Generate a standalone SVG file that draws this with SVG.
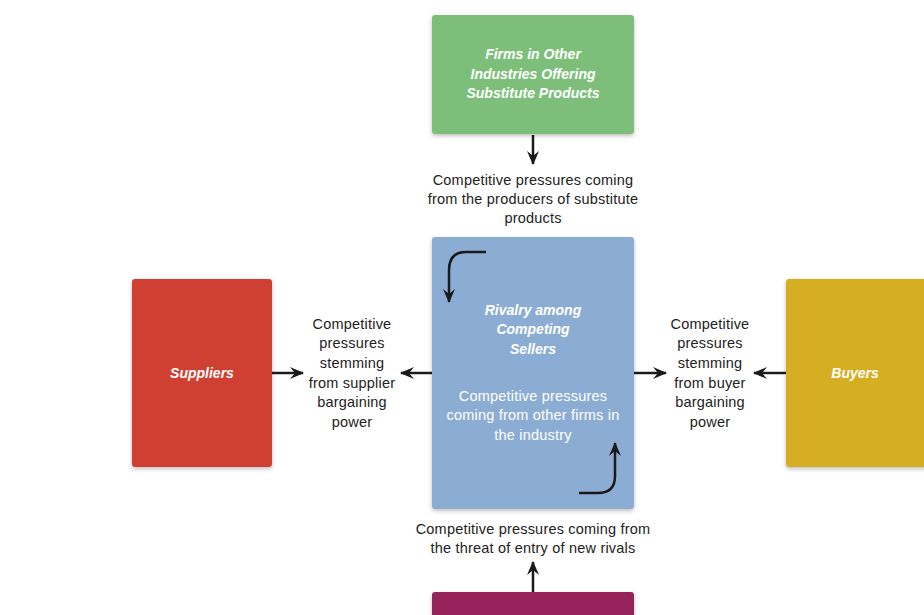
<svg xmlns="http://www.w3.org/2000/svg" width="924" height="615" viewBox="0 0 924 615">
<style>
.box{filter:url(#sh)}
.t{font-family:"Liberation Sans",Arial,sans-serif;font-size:14.5px;letter-spacing:0.2px;fill:#222;text-anchor:middle}
.w{font-family:"Liberation Sans",Arial,sans-serif;font-size:14.5px;letter-spacing:0.2px;fill:#fff;text-anchor:middle}
.h{font-family:"Liberation Sans",Arial,sans-serif;font-size:14px;font-weight:bold;font-style:italic;fill:#fff;text-anchor:middle}
.c{stroke:#1a1a1a;stroke-width:2.5;fill:none}
</style>
<defs>
<filter id="sh" x="-10%" y="-10%" width="120%" height="120%">
<feDropShadow dx="0" dy="2" stdDeviation="2" flood-color="#000" flood-opacity="0.25"/>
</filter>
<marker id="ah" viewBox="0 0 14 12" refX="13" refY="6" markerWidth="14" markerHeight="12" markerUnits="userSpaceOnUse" orient="auto">
<path d="M0,0 L14,6 L0,12 L5,6 Z" fill="#1a1a1a"/>
</marker>
</defs>
<rect width="924" height="615" fill="#fff"/>
<g id="substitutes">
<rect class="box" x="432" y="15" width="202" height="119" rx="3" fill="#7DBF7A"/>
<text class="h" x="533" y="59">Firms in Other</text>
<text class="h" x="533" y="79">Industries Offering</text>
<text class="h" x="533" y="98">Substitute Products</text>
</g>
<g id="rivalry">
<rect class="box" x="432" y="237" width="202" height="272" rx="3" fill="#8CADD3"/>
<text class="h" x="533" y="315">Rivalry among</text>
<text class="h" x="533" y="334">Competing</text>
<text class="h" x="533" y="354">Sellers</text>
<text class="w" x="533" y="401">Competitive pressures</text>
<text class="w" x="533" y="420">coming from other firms in</text>
<text class="w" x="533" y="440">the industry</text>
</g>
<g id="suppliers">
<rect class="box" x="132" y="279" width="140" height="188" rx="3" fill="#CF4031"/>
<text class="h" x="202" y="378">Suppliers</text>
</g>
<g id="buyers">
<rect class="box" x="786" y="279" width="150" height="188" rx="3" fill="#D6AE20"/>
<text class="h" x="855" y="378">Buyers</text>
</g>
<g id="entrants">
<rect class="box" x="432" y="592" width="202" height="40" rx="3" fill="#95205A"/>
</g>
<g id="labels">
<text class="t" x="533" y="185">Competitive pressures coming</text>
<text class="t" x="533" y="204">from the producers of substitute</text>
<text class="t" x="533" y="223">products</text>
<text class="t" x="352" y="329">Competitive</text>
<text class="t" x="352" y="348">pressures</text>
<text class="t" x="352" y="368">stemming</text>
<text class="t" x="352" y="388">from supplier</text>
<text class="t" x="352" y="407">bargaining</text>
<text class="t" x="352" y="427">power</text>
<text class="t" x="710" y="329">Competitive</text>
<text class="t" x="710" y="348">pressures</text>
<text class="t" x="710" y="368">stemming</text>
<text class="t" x="710" y="388">from buyer</text>
<text class="t" x="710" y="407">bargaining</text>
<text class="t" x="710" y="427">power</text>
<text class="t" x="533" y="534">Competitive pressures coming from</text>
<text class="t" x="533" y="553">the threat of entry of new rivals</text>
</g>
<g id="connectors">
<path class="c" d="M533,135 L533,164" marker-end="url(#ah)"/>
<path class="c" d="M272,373 L303,373" marker-end="url(#ah)"/>
<path class="c" d="M432,373 L401,373" marker-end="url(#ah)"/>
<path class="c" d="M634,373 L666,373" marker-end="url(#ah)"/>
<path class="c" d="M786,373 L754,373" marker-end="url(#ah)"/>
<path class="c" d="M533,592 L533,562" marker-end="url(#ah)"/>
<path class="c" d="M486,252 L466,252 Q449,252 449,270 L449,302" marker-end="url(#ah)"/>
<path class="c" d="M579,493 L598,493 Q615,493 615,476 L615,443" marker-end="url(#ah)"/>
</g>
</svg>
